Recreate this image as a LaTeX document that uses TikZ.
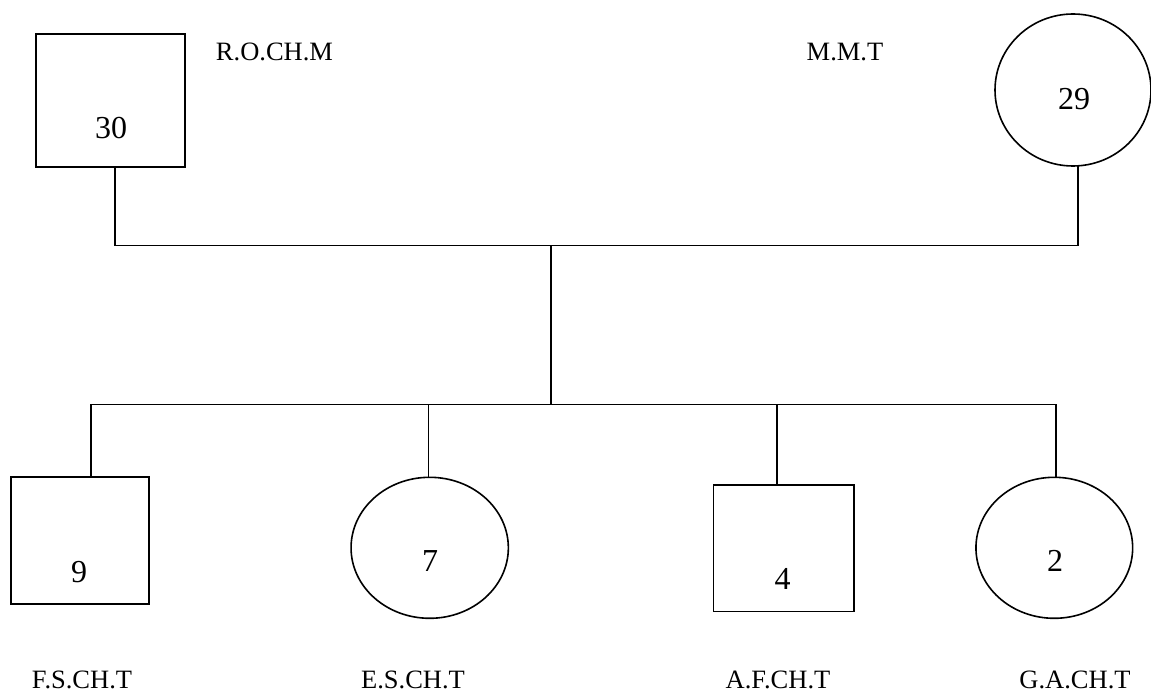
\documentclass[tikz,border=0pt]{standalone}
\usepackage{fontspec}
\setmainfont{Liberation Serif}
\usetikzlibrary{shapes.geometric}
\begin{document}
\begin{tikzpicture}[x=1pt,y=-1pt,
  line width=1.6pt,
  male/.style={draw, rectangle, inner sep=0pt, outer sep=0pt},
  female/.style={draw, ellipse, inner sep=0pt, outer sep=0pt},
  agetext/.style={anchor=base, inner sep=0pt, font=\fontsize{32}{36}\selectfont},
  pname/.style={anchor=base, inner sep=0pt, font=\fontsize{26.5}{30}\selectfont}]
\useasboundingbox (0,0) rectangle (1151,692);
\clip (0,0) rectangle (1151,692);
% parents
\node[male, minimum width=149.3pt, minimum height=133pt] (father) at (110.4,100.5) {};
\node[female, minimum width=156pt, minimum height=152pt] (mother) at (1073,90) {};
\node[agetext] (a30) at (111,139) {30};
\node[agetext] (a29) at (1074,110) {29};
\node[pname] (nf) at (274.5,61) {R.O.CH.M};
\node[pname] (nm) at (845,61) {M.M.T};
% children
\node[male, minimum width=137.7pt, minimum height=126.7pt] (s1) at (79.9,540.4) {};
\node[female, minimum width=157.3pt, minimum height=141pt] (d1) at (429.7,547.8) {};
\node[male, minimum width=140.7pt, minimum height=126.3pt] (s2) at (783.7,548.2) {};
\node[female, minimum width=156.7pt, minimum height=141pt] (d2) at (1054.3,547.8) {};
\node[agetext] (a9) at (79,582.5) {9};
\node[agetext] (a7) at (430,571.5) {7};
\node[agetext] (a4) at (782.7,589) {4};
\node[agetext] (a2) at (1055,571.5) {2};
\node[pname] (n1) at (82,688) {F.S.CH.T};
\node[pname] (n2) at (413,688) {E.S.CH.T};
\node[pname] (n3) at (778,688) {A.F.CH.T};
\node[pname] (n4) at (1075,688) {G.A.CH.T};
% connectors
\coordinate (pL) at (114.7,245.7);
\coordinate (pR) at (1077.7,245.7);
\coordinate (pM) at (551,245.7);
\coordinate (cM) at (551,404.3);
\coordinate (c1) at (90.7,404.3);
\coordinate (c2) at (428.3,404.3);
\coordinate (c3) at (776.7,404.3);
\coordinate (c4) at (1056,404.3);
\draw (father.south -| pL) -- (pL) -- (pR) -- (pR |- mother.south);
\draw (pM) -- (cM);
\draw (c1) -- (c4);
\draw (c1) -- (c1 |- s1.north);
\draw (c2) -- (c2 |- d1.north);
\draw (c3) -- (c3 |- s2.north);
\draw (c4) -- (c4 |- d2.north);
\end{tikzpicture}
\end{document}
